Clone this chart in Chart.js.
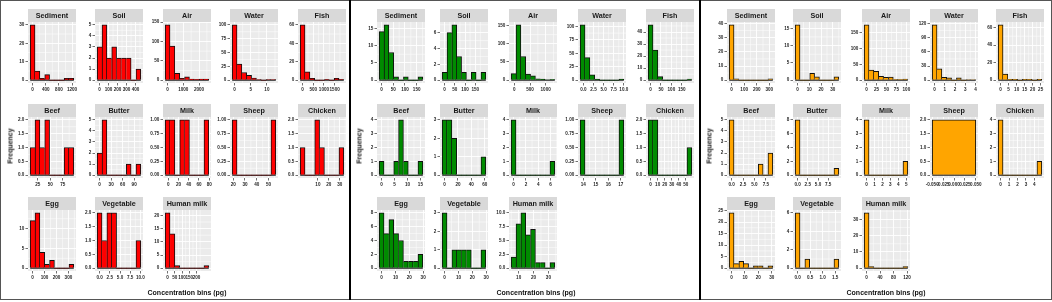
<!DOCTYPE html>
<html>
<head>
<meta charset="utf-8">
<script src="https://cdn.jsdelivr.net/npm/chart.js"></script>
<style>
  html, body { margin: 0; padding: 0; background: #fff; }
  body { width: 1052px; height: 302px; position: relative; overflow: hidden; font-family: "Liberation Sans", Arial, sans-serif; -webkit-font-smoothing: antialiased; }
  .frame { position: absolute; left: 0; top: 0; width: 1052px; height: 300px; box-sizing: border-box; border: 1px solid #555; }
  .sep { position: absolute; top: 0; width: 2px; height: 300px; background: #000; }
  .strip { position: absolute; background: #D9D9D9; color: #1A1A1A; font-weight: bold; font-size: 7.2px; text-align: center; white-space: nowrap; will-change: transform; }
  .title { position: absolute; color: #111; font-weight: bold; font-size: 7px; white-space: nowrap; will-change: transform; }
  canvas { position: absolute; }
</style>
</head>
<body>
<div class="frame"></div>
<div class="sep" style="left:349px"></div>
<div class="sep" style="left:699px"></div>
<script>
// facet order is the same in all three panels
const facets = ['Sediment', 'Soil', 'Air', 'Water', 'Fish', 'Beef', 'Butter', 'Milk', 'Sheep', 'Chicken', 'Egg', 'Vegetable', 'Human milk'];

// red panel: counts per bin (9 bins), centre of first / last bin, tick values
const redCounts = [
    [30, 5, 1, 3, 0, 0, 0, 1, 1],
    [3, 5, 2, 3, 2, 2, 2, 0, 1],
    [143, 88, 18, 5, 9, 3, 2, 3, 3],
    [100, 29, 14, 9, 4, 1, 0, 1, 1],
    [60, 9, 2, 0, 0, 1, 0, 2, 1],
    [1, 2, 1, 2, 0, 0, 0, 1, 1],
    [2, 5, 0, 0, 0, 0, 1, 0, 1],
    [1, 1, 0, 1, 1, 0, 0, 0, 1],
    [1, 0, 0, 0, 0, 0, 0, 0, 1],
    [1, 0, 0, 2, 1, 0, 0, 0, 1],
    [12, 14, 4, 1, 2, 0, 0, 0, 1],
    [2, 1, 2, 2, 0, 0, 0, 0, 1],
    [21, 13, 1, 0, 0, 0, 0, 0, 1]
];
const redMin = [0, 0, 0, 0, 0, 14.7, 0, -1.5, 21.2, -4, 0, 0, 0];
const redMax = [1180, 432, 2470, 12, 1815, 92, 101, 74.5, 54.1, 31.5, 325, 9.5, 268];
const redXTicks = [
    [0, 400, 800, 1200], [0, 100, 200, 300, 400], [0, 1000, 2000], [0, 5, 10], [0, 500, 1000, 1500],
    [25, 50, 75], [0, 30, 60, 90], [0, 20, 40, 60, 80], [20, 30, 40, 50], [10, 20, 30],
    [0, 100, 200, 300], [0, 2.5, 5, 7.5, 10], [0, 50, 100, 150, 200]
];
const redYTicks = [
    [0, 10, 20, 30], [0, 1, 2, 3, 4, 5], [0, 50, 100, 150], [0, 25, 50, 75, 100], [0, 20, 40, 60],
    [0, 0.5, 1, 1.5, 2], [0, 1, 2, 3, 4, 5], [0, 0.25, 0.5, 0.75, 1], [0, 0.25, 0.5, 0.75, 1], [0, 0.5, 1, 1.5, 2],
    [0, 5, 10], [0, 0.5, 1, 1.5, 2], [0, 5, 10, 15, 20]
];

// green panel
const greenCounts = [
    [14, 16, 8, 1, 0, 1, 0, 0, 1],
    [1, 6, 7, 3, 1, 0, 1, 0, 1],
    [18, 152, 65, 17, 12, 4, 3, 1, 2],
    [103, 42, 10, 2, 0, 0, 0, 0, 2],
    [46, 25, 3, 0, 0, 0, 0, 0, 1],
    [1, 0, 0, 1, 4, 1, 0, 0, 1],
    [3, 3, 2, 0, 0, 0, 0, 0, 1],
    [4, 0, 0, 0, 0, 0, 0, 0, 1],
    [1, 0, 0, 0, 0, 0, 0, 0, 1],
    [2, 2, 0, 0, 0, 0, 0, 0, 1],
    [8, 5, 7, 5, 4, 1, 1, 1, 2],
    [3, 0, 1, 1, 1, 1, 0, 0, 1],
    [2, 8, 10, 6, 7, 1, 1, 0, 1]
];
const greenMin = [0, 0, -25, -0.2, 0, 0, 0, 0, 13.95, 0, 0, 0, 6.6];
const greenMax = [166, 190, 1215, 9.4, 187, 15, 58, 6.3, 17.05, 55, 28, 28, 32.7];
const greenXTicks = [
    [0, 50, 100, 150], [0, 50, 100, 150], [0, 500, 1000], [0, 2.5, 5, 7.5, 10], [0, 50, 100, 150],
    [0, 5, 10, 15], [0, 20, 40, 60], [0, 2, 4, 6], [14, 15, 16, 17], [0, 10, 20, 30, 40, 50],
    [0, 10, 20, 30], [0, 10, 20, 30], [10, 20, 30]
];
const greenYTicks = [
    [0, 5, 10, 15], [0, 2, 4, 6], [0, 50, 100, 150], [0, 25, 50, 75, 100], [0, 10, 20, 30, 40],
    [0, 1, 2, 3, 4], [0, 1, 2, 3], [0, 1, 2, 3, 4], [0, 0.25, 0.5, 0.75, 1], [0, 0.5, 1, 1.5, 2],
    [0, 2, 4, 6, 8], [0, 1, 2, 3], [0, 2.5, 5, 7.5, 10]
];

// orange panel (Sheep: both values equal, one bin)
const orangeCounts = [
    [39, 1, 0, 0, 0, 0, 0, 0, 1],
    [16, 0, 0, 2, 1, 0, 0, 0, 1],
    [175, 32, 28, 12, 9, 10, 2, 2, 4],
    [117, 24, 6, 5, 0, 5, 0, 1, 1],
    [63, 7, 1, 1, 0, 1, 1, 0, 1],
    [5, 0, 0, 0, 0, 0, 1, 0, 2],
    [8, 0, 0, 0, 0, 0, 0, 0, 1],
    [4, 0, 0, 0, 0, 0, 0, 0, 1],
    [2],
    [4, 0, 0, 0, 0, 0, 0, 0, 1],
    [24, 2, 3, 2, 0, 1, 1, 0, 1],
    [6, 0, 1, 0, 0, 0, 0, 0, 1],
    [34, 1, 0, 0, 0, 0, 0, 0, 1]
];
const orangeMin = [0, 0, 0, 0, 0, 0, 0, 0, 0, 0, 0, 0, 0];
const orangeMax = [309, 33, 97.6, 3.8, 24.2, 8.5, 9.5, 4.9, 0, 4.6, 29, 1.55, 115];
const orangeXTicks = [
    [0, 100, 200, 300], [0, 10, 20, 30], [0, 25, 50, 75, 100], [0, 1, 2, 3, 4], [0, 5, 10, 15, 20, 25],
    [0, 2.5, 5, 7.5], [0, 2.5, 5, 7.5], [0, 1, 2, 3, 4, 5], [-0.05, -0.025, 0, 0.025, 0.05], [0, 1, 2, 3, 4],
    [0, 10, 20, 30], [0, 0.5, 1, 1.5], [0, 40, 80, 120]
];
const orangeYTicks = [
    [0, 10, 20, 30, 40], [0, 5, 10, 15], [0, 50, 100, 150], [0, 30, 60, 90, 120], [0, 20, 40, 60],
    [0, 1, 2, 3, 4, 5], [0, 2, 4, 6, 8], [0, 1, 2, 3, 4], [0, 0.5, 1, 1.5, 2], [0, 1, 2, 3, 4],
    [0, 5, 10, 15, 20, 25], [0, 2, 4, 6], [0, 10, 20, 30]
];

const xTitle = 'Concentration bins (pg)';
const yTitle = 'Frequency';

const panels = [
    { fill: '#FF0000', counts: redCounts, mins: redMin, maxs: redMax, xTicks: redXTicks, yTicks: redYTicks },
    { fill: '#008B00', counts: greenCounts, mins: greenMin, maxs: greenMax, xTicks: greenXTicks, yTicks: greenYTicks },
    { fill: '#FFA500', counts: orangeCounts, mins: orangeMin, maxs: orangeMax, xTicks: orangeXTicks, yTicks: orangeYTicks }
];

// layout (pixels)
const colLeft = [[28, 95, 163, 230, 298], [377, 440, 509, 578, 646], [727, 793, 862, 930, 996]];
const stripTop = [9, 104, 197];
const STRIP_H = 13, PLOT_W = 48, PLOT_H = 61;
const Y_AXIS_W = 16, X_AXIS_H = 10, PAD_T = 4, PAD_R = 9;

Chart.defaults.font.family = '"Liberation Sans", Arial, sans-serif';

// ggplot style minor breaks: halfway between majors, one step beyond each end
function minorBreaks(ticks, lo, hi) {
    const out = [];
    for (let k = 0; k < ticks.length - 1; k++) out.push((ticks[k] + ticks[k + 1]) / 2);
    if (ticks.length > 1) {
        const step = ticks[1] - ticks[0];
        out.push(ticks[0] - step / 2, ticks[ticks.length - 1] + step / 2);
    }
    return out.filter(v => v > lo && v < hi);
}

// grey panel background with white minor grid
const panelBg = {
    id: 'panelBg',
    beforeDraw(chart) {
        const { ctx, chartArea: a, scales: { x, y } } = chart;
        ctx.save();
        ctx.fillStyle = '#EBEBEB';
        ctx.fillRect(a.left, a.top, a.width, a.height);
        ctx.strokeStyle = '#FFFFFF';
        ctx.lineWidth = 0.5;
        ctx.beginPath();
        minorBreaks(x.ticks.map(t => t.value), x.min, x.max).forEach(v => {
            const p = x.getPixelForValue(v);
            ctx.moveTo(p, a.top); ctx.lineTo(p, a.bottom);
        });
        minorBreaks(y.ticks.map(t => t.value), y.min, y.max).forEach(v => {
            const p = y.getPixelForValue(v);
            ctx.moveTo(a.left, p); ctx.lineTo(a.right, p);
        });
        ctx.stroke();
        ctx.restore();
    }
};

// black outline along zero over the whole bin range (empty bins show as a line)
const baseLine = {
    id: 'baseLine',
    afterDatasetsDraw(chart, args, opts) {
        const { ctx, scales: { x, y } } = chart;
        const p = y.getPixelForValue(0);
        ctx.save();
        ctx.strokeStyle = '#111';
        ctx.lineWidth = 1;
        ctx.beginPath();
        ctx.moveTo(x.getPixelForValue(opts.from), p);
        ctx.lineTo(x.getPixelForValue(opts.to), p);
        ctx.stroke();
        ctx.restore();
    }
};
Chart.register(panelBg, baseLine);

// same number of decimals for every label on an axis
function formatter(ticks) {
    const d = Math.max(...ticks.map(v => {
        const s = String(v);
        return s.includes('.') ? s.split('.')[1].length : 0;
    }));
    return v => Number(v).toFixed(d);
}

function axis(dir, ticks, lo, hi) {
    const f = formatter(ticks);
    return {
        type: 'linear', min: lo, max: hi, offset: false,
        afterBuildTicks: s => { s.ticks = ticks.map(v => ({ value: v })); },
        afterFit: s => {
            if (dir === 'x') s.height = X_AXIS_H; else s.width = Y_AXIS_W;
            s.paddingLeft = 0; s.paddingRight = 0; s.paddingTop = 0; s.paddingBottom = 0;
        },
        ticks: {
            autoSkip: false, maxRotation: 0, minRotation: 0, padding: 1.2,
            color: '#262626', font: { size: 4.6, weight: 'bold' },
            callback: v => f(v)
        },
        grid: { color: '#FFFFFF', lineWidth: 0.9, offset: false, tickLength: 2.5, tickColor: '#333', tickWidth: 0.7 },
        border: { display: false }
    };
}

// outline each edge once: a shared edge belongs to the taller bar
function edgeWidths(c) {
    const d = c.dataset.data;
    const i = c.dataIndex;
    const h = d[i].y;
    if (h === 0) return 0;
    return {
        top: 1,
        bottom: 0,
        left: (i === 0 || d[i - 1].y < h) ? 1 : 0,
        right: (i === d.length - 1 || d[i + 1].y <= h) ? 1 : 0
    };
}

function addDiv(cls, text, css) {
    const el = document.createElement('div');
    el.className = cls;
    el.textContent = text;
    Object.assign(el.style, css);
    document.body.appendChild(el);
    return el;
}

panels.forEach((panel, p) => {
    facets.forEach((name, i) => {
        const row = Math.floor(i / 5);
        const left = colLeft[p][i % 5];
        const plotTop = stripTop[row] + STRIP_H;

        addDiv('strip', name, {
            left: left + 'px', top: stripTop[row] + 'px', width: PLOT_W + 'px',
            height: STRIP_H + 'px', lineHeight: STRIP_H + 'px'
        });

        const counts = panel.counts[i];
        const lo = panel.mins[i], hi = panel.maxs[i];
        const w = counts.length > 1 ? (hi - lo) / (counts.length - 1) : 0.1;
        const a = lo - w / 2, b = hi + w / 2;
        const xLo = a - (b - a) * 0.05, xHi = b + (b - a) * 0.05;
        const top = Math.max(...counts);

        const canvas = document.createElement('canvas');
        canvas.width = Y_AXIS_W + PLOT_W + PAD_R;
        canvas.height = PAD_T + PLOT_H + X_AXIS_H;
        canvas.style.left = (left - Y_AXIS_W) + 'px';
        canvas.style.top = (plotTop - PAD_T) + 'px';
        document.body.appendChild(canvas);

        new Chart(canvas.getContext('2d'), {
            type: 'bar',
            data: {
                datasets: [{
                    data: counts.map((c, k) => ({ x: lo + k * w, y: c })),
                    backgroundColor: panel.fill,
                    borderColor: '#111',
                    borderWidth: edgeWidths,
                    borderSkipped: false,
                    barThickness: w * PLOT_W / (xHi - xLo)
                }]
            },
            options: {
                responsive: false,
                animation: false,
                devicePixelRatio: 1,
                layout: { padding: { top: PAD_T, right: PAD_R, left: 0, bottom: 0 } },
                plugins: {
                    legend: { display: false },
                    tooltip: { enabled: false },
                    baseLine: { from: a, to: b }
                },
                scales: {
                    x: axis('x', panel.xTicks[i], xLo, xHi),
                    y: axis('y', panel.yTicks[i], -0.05 * top, 1.05 * top)
                }
            }
        });
    });

    // axis titles for the panel
    const first = colLeft[p][0], last = colLeft[p][4] + PLOT_W;
    const yl = addDiv('title', yTitle, {});
    yl.style.left = (first - 18) + 'px';
    yl.style.top = '146px';
    yl.style.transform = 'translate(-50%, -50%) rotate(-90deg)';
    const xl = addDiv('title', xTitle, {});
    xl.style.left = ((first + last) / 2) + 'px';
    xl.style.top = '292px';
    xl.style.transform = 'translate(-50%, -50%)';
});
</script>
</body>
</html>
